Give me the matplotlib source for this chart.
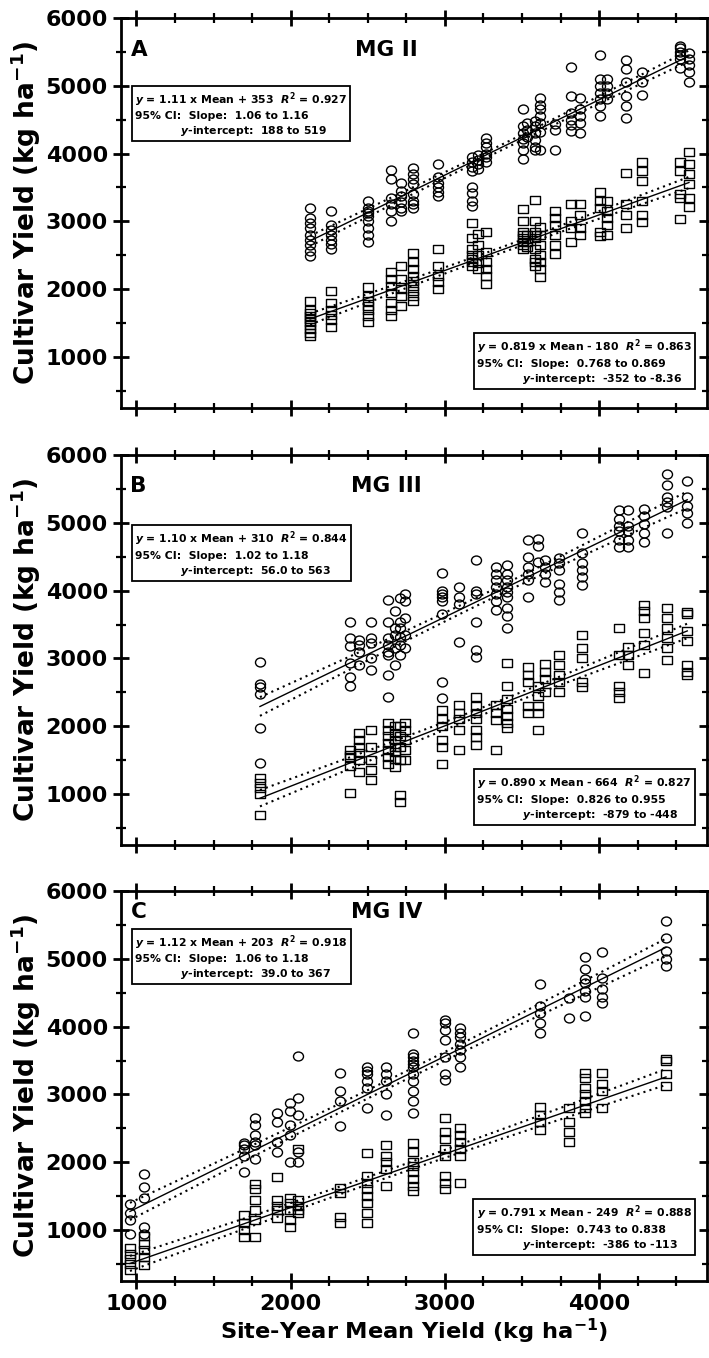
"""
Cultivar yield vs site-year mean yield for three maturity groups (MG II-IV),
circles and squares = two cultivar sets, with fitted line and 95% CI band.
"""
import matplotlib
matplotlib.use("Agg")
import matplotlib.pyplot as plt
import numpy as np
from matplotlib.path import Path
from matplotlib.ticker import MultipleLocator

plt.rcParams["font.family"] = ["DejaVu Sans"]
plt.rcParams["font.weight"] = "bold"
plt.rcParams["mathtext.fontset"] = "custom"
plt.rcParams["mathtext.rm"] = "DejaVu Sans:bold"
plt.rcParams["mathtext.it"] = "DejaVu Sans:italic:bold"
plt.rcParams["mathtext.bf"] = "DejaVu Sans:bold"

# ---- panel A: MG II ----
A_X = [2126, 2260, 2500, 2649, 2714, 2794, 2956, 3174, 3215, 3267, 3505, 3531,
       3585, 3617, 3715, 3818, 3877, 4006, 4052, 4175, 4277, 4525, 4583]
A_CIRC = [
    [3200, 3050, 2980, 2900, 2800, 2720, 2650, 2560, 2490],
    [3150, 2950, 2870, 2800, 2730, 2660, 2590],
    [3300, 3200, 3160, 3120, 3080, 3000, 2900, 2800, 2700],
    [3760, 3620, 3350, 3250, 3150, 3000],
    [3570, 3450, 3380, 3280, 3200, 3150],
    [3790, 3700, 3620, 3550, 3400, 3300, 3250, 3200],
    [3840, 3650, 3560, 3500, 3430, 3370],
    [3950, 3870, 3800, 3750, 3500, 3420, 3300, 3220],
    [3980, 3900, 3840, 3780],
    [4230, 4150, 4100, 4000, 3950, 3880],
    [4650, 4400, 4300, 4220, 4150, 4050, 3920],
    [4450, 4350, 4250],
    [4480, 4400, 4300, 4200, 4100, 4060],
    [4820, 4720, 4650, 4550, 4450, 4320, 4060],
    [4430, 4350, 4060],
    [5280, 4850, 4600, 4500, 4420, 4330],
    [4820, 4650, 4550, 4450, 4310],
    [5450, 5100, 5000, 4900, 4800, 4700, 4550],
    [5100, 5000, 4900, 4800],
    [5380, 5250, 5050, 4850, 4700, 4520],
    [5200, 5050, 4870],
    [5590, 5560, 5500, 5450, 5400, 5260],
    [5480, 5400, 5300, 5200, 5060],
]
A_SQ = [
    [1820, 1700, 1650, 1600, 1560, 1520, 1480, 1420, 1350, 1310],
    [1970, 1800, 1700, 1620, 1550, 1450],
    [2030, 1900, 1820, 1760, 1700, 1600, 1520],
    [2250, 2150, 2050, 1950, 1800, 1700, 1600],
    [2340, 2150, 2000, 1900, 1750],
    [2540, 2400, 2300, 2200, 2120, 2050, 1980, 1900, 1820],
    [2590, 2350, 2200, 2100, 2000],
    [2980, 2750, 2600, 2500, 2450, 2400, 2340],
    [2810, 2650, 2500, 2380, 2300],
    [2840, 2550, 2400, 2300, 2200, 2080],
    [3180, 3000, 2850, 2800, 2750, 2700, 2650, 2590],
    [2800, 2700, 2620],
    [3320, 3000, 2850, 2800, 2750, 2600, 2450, 2400, 2340],
    [2920, 2800, 2650, 2500, 2400, 2300, 2180],
    [3150, 3050, 2950, 2800, 2650, 2520],
    [3250, 3000, 2900, 2700],
    [3250, 3100, 2900, 2800],
    [3440, 3300, 3200, 2850, 2780],
    [3300, 3150, 3050, 2950, 2800],
    [3720, 3250, 3100, 2900],
    [3880, 3750, 3600, 3300, 3100, 2990],
    [3880, 3750, 3400, 3350, 3040],
    [4030, 3850, 3700, 3550, 3350, 3210],
]

# ---- panel B: MG III ----
B_X = [1801, 2385, 2443, 2521, 2632, 2677, 2709, 2740, 2980, 3092, 3202, 3330,
       3401, 3538, 3604, 3650, 3740, 3892, 4130, 4188, 4292, 4439, 4572]
B_CIRC = [
    [2940, 2630, 2580, 2480, 1970, 1460],
    [3540, 3300, 3190, 2930, 2730, 2600],
    [3270, 3200, 3100, 2900],
    [3540, 3300, 3220, 3000, 2830],
    [3860, 3540, 3300, 3200, 3100, 3050, 2750, 2430],
    [3700, 3450, 3350, 3150, 2900],
    [3890, 3540, 3450, 3320, 3200, 3050],
    [3950, 3850, 3600, 3350, 3150],
    [4260, 4000, 3950, 3900, 3850, 3650, 2650, 2420],
    [4050, 3900, 3800, 3240],
    [4450, 3990, 3950, 3540, 3120, 3020],
    [4350, 4250, 4150, 4050, 3950, 3850, 3720],
    [4370, 4250, 4150, 4050, 3980, 3900, 3750, 3620, 3450],
    [4740, 4500, 4350, 4250, 4150, 3900],
    [4760, 4650, 4420],
    [4450, 4350, 4250, 4120],
    [4480, 4400, 4300, 4100, 3980, 3860],
    [4850, 4550, 4400, 4300, 4200, 4080],
    [5190, 5050, 4950, 4880, 4750, 4640],
    [5190, 4950, 4880, 4750, 4640],
    [5200, 5100, 4980, 4850, 4720],
    [5720, 5550, 5380, 5300, 5230, 4850],
    [5620, 5380, 5250, 5150, 5000],
]
B_SQ = [
    [1240, 1160, 1090, 1000, 690],
    [1650, 1580, 1550, 1420, 1020],
    [1900, 1800, 1700, 1600, 1500, 1320],
    [1940, 1700, 1500, 1350, 1210],
    [2050, 1950, 1850, 1750, 1650, 1550, 1450],
    [2000, 1900, 1800, 1700, 1620, 1520, 1400],
    [2000, 1850, 1700, 1500, 980, 880],
    [2050, 1950, 1800, 1650, 1500],
    [2240, 2100, 2000, 1800, 1700, 1450],
    [2310, 2200, 2100, 1950, 1650],
    [2430, 2300, 2200, 2100, 1950, 1840, 1720],
    [2310, 2200, 2090, 1650],
    [2930, 2600, 2400, 2250, 2150, 2050, 1970],
    [2870, 2750, 2650, 2300, 2200],
    [2600, 2450, 2300, 2200, 1950],
    [2920, 2800, 2700, 2500],
    [3050, 2900, 2750, 2650, 2500],
    [3340, 3150, 3000, 2650, 2580],
    [3450, 3050, 2600, 2500, 2420],
    [3170, 3050, 2900],
    [3790, 3700, 3600, 3380, 3200, 2780],
    [3740, 3600, 3450, 3300, 3150, 2980],
    [3680, 3650, 3400, 3250, 2900, 2800, 2750],
]

# ---- panel C: MG IV ----
C_X = [958, 1049, 1698, 1769, 1912, 1996, 2048, 2320, 2495, 2618, 2794, 3001,
       3098, 3617, 3805, 3909, 4019, 4434]
C_CIRC = [
    [1390, 1250, 1150, 950],
    [1830, 1630, 1480, 1050, 950],
    [2280, 2250, 2200, 2100, 1850],
    [2660, 2550, 2400, 2300, 2250, 2050],
    [2720, 2600, 2300, 2150],
    [2870, 2750, 2550, 2400, 2000],
    [3560, 2950, 2700, 2150, 2000],
    [3320, 3050, 2900, 2530],
    [3400, 3350, 3300, 3200, 3100, 2800],
    [3410, 3300, 3200, 3000, 2700],
    [3900, 3600, 3550, 3500, 3450, 3400, 3300, 3200, 3050, 2900, 2730],
    [4100, 4050, 3950, 3800, 3550, 3300, 3220],
    [3980, 3900, 3850, 3750, 3650, 3550, 3400],
    [4630, 4300, 4200, 4050, 3900],
    [4420, 4130],
    [5030, 4850, 4700, 4650, 4520, 4430, 4150],
    [5100, 4720, 4550, 4430, 4350],
    [5560, 5300, 5120, 5000, 4890],
]
C_SQ = [
    [730, 650, 580, 500, 410],
    [920, 800, 700, 600, 480],
    [1220, 1100, 1000, 900],
    [1680, 1600, 1450, 1300, 1150, 900],
    [1780, 1450, 1350, 1300, 1180],
    [1480, 1400, 1300, 1150, 1050],
    [2200, 1450, 1350, 1300, 1250],
    [1620, 1550, 1200, 1100],
    [2130, 1800, 1700, 1600, 1500, 1400, 1250, 1100],
    [2250, 2100, 2000, 1900, 1650],
    [2280, 2150, 2000, 1950, 1850, 1750, 1650, 1570],
    [2650, 2450, 2350, 2200, 2100, 1800, 1700, 1600],
    [2500, 2400, 2300, 2200, 2100, 1700],
    [2810, 2700, 2600, 2480],
    [2800, 2600, 2450, 2300],
    [3310, 3250, 3100, 3000, 2900, 2800, 2720],
    [3310, 3150, 3050, 2800],
    [3530, 3500, 3300, 3130],
]

# reported fits: (slope, intercept)
FIT_CIRC = [(1.11, 353), (1.10, 310), (1.12, 203)]
FIT_SQ = [(0.819, -180), (0.890, -664), (0.791, -249)]

TOP_TEXT = [
    ["$y$ = 1.11 x Mean + 353  $R^2$ = 0.927",
     "95% CI:  Slope:  1.06 to 1.16",
     "$y$-intercept:  188 to 519"],
    ["$y$ = 1.10 x Mean + 310  $R^2$ = 0.844",
     "95% CI:  Slope:  1.02 to 1.18",
     "$y$-intercept:  56.0 to 563"],
    ["$y$ = 1.12 x Mean + 203  $R^2$ = 0.918",
     "95% CI:  Slope:  1.06 to 1.18",
     "$y$-intercept:  39.0 to 367"],
]
BOT_TEXT = [
    ["$y$ = 0.819 x Mean - 180  $R^2$ = 0.863",
     "95% CI:  Slope:  0.768 to 0.869",
     "$y$-intercept:  -352 to -8.36"],
    ["$y$ = 0.890 x Mean - 664  $R^2$ = 0.827",
     "95% CI:  Slope:  0.826 to 0.955",
     "$y$-intercept:  -879 to -448"],
    ["$y$ = 0.791 x Mean - 249  $R^2$ = 0.888",
     "95% CI:  Slope:  0.743 to 0.838",
     "$y$-intercept:  -386 to -113"],
]
LETTERS = ["A", "B", "C"]
TITLES = ["MG II", "MG III", "MG IV"]

# slightly wide markers (the source figure is stretched horizontally)
_c = Path.unit_circle()
CIRCLE = Path(_c.vertices * [1.12, 1.0], _c.codes)
SQUARE = Path([(-0.6, -0.5), (0.6, -0.5), (0.6, 0.5), (-0.6, 0.5), (-0.6, -0.5)],
              [Path.MOVETO, Path.LINETO, Path.LINETO, Path.LINETO, Path.CLOSEPOLY])


def _flatten(xs, groups):
    x = np.concatenate([[xv] * len(g) for xv, g in zip(xs, groups)]).astype(float)
    y = np.concatenate(groups).astype(float)
    return x, y


def _fit_with_band(ax, x, y, slope, icpt):
    xx = np.linspace(x.min(), x.max(), 100)
    yy = slope * xx + icpt
    resid = y - (slope * x + icpt)
    n = len(x)
    s = np.sqrt(np.sum(resid ** 2) / (n - 2))
    sxx = np.sum((x - x.mean()) ** 2)
    se = s * np.sqrt(1.0 / n + (xx - x.mean()) ** 2 / sxx)
    t = 1.98
    ax.plot(xx, yy, c="k", lw=1.0, zorder=3)
    ax.plot(xx, yy + t * se, c="k", lw=1.5, ls=(0, (1, 2.0)), zorder=3)
    ax.plot(xx, yy - t * se, c="k", lw=1.5, ls=(0, (1, 2.0)), zorder=3)


def _box(ax, lines, x, y, ha, va):
    txt = lines[0] + "\n" + lines[1] + "\n" + " " * 12 + lines[2]
    ax.text(x, y, txt, transform=ax.transAxes, ha=ha, va=va, fontsize=7.8,
            fontweight="bold", linespacing=1.32, multialignment="left", zorder=5,
            bbox=dict(boxstyle="square,pad=0.28", fc="white", ec="k", lw=1.3))


fig = plt.figure(figsize=(7.09, 13.58), dpi=100)
bottoms = [0.6996, 0.3778, 0.0567]
panels = [(A_X, A_CIRC, A_SQ), (B_X, B_CIRC, B_SQ), (C_X, C_CIRC, C_SQ)]
top_y = [0.815, 0.808, 0.892]
bot_y = [0.056, 0.059, 0.074]
label_y = [0.918, 0.920, 0.946]

for i, (xs, circ, sq) in enumerate(panels):
    ax = fig.add_axes([0.1707, bottoms[i], 0.8265, 0.2872])
    xc, yc = _flatten(xs, circ)
    xsq, ysq = _flatten(xs, sq)
    ax.plot(xc, yc, ls="none", marker=CIRCLE, ms=7.2, mfc="none", mec="k", mew=1.0, zorder=2)
    ax.plot(xsq, ysq, ls="none", marker=SQUARE, ms=7.0, mfc="none", mec="k", mew=1.0, zorder=2)
    _fit_with_band(ax, xc, yc, *FIT_CIRC[i])
    _fit_with_band(ax, xsq, ysq, *FIT_SQ[i])

    ax.set_xlim(900, 4700)
    ax.set_ylim(250, 6000)
    ax.xaxis.set_major_locator(MultipleLocator(1000))
    ax.xaxis.set_minor_locator(MultipleLocator(250))
    ax.yaxis.set_major_locator(MultipleLocator(1000))
    ax.yaxis.set_minor_locator(MultipleLocator(500))
    ax.tick_params(which="both", direction="inout", top=True, right=True,
                   labelsize=16, pad=4)
    ax.tick_params(which="major", length=11, width=2.0)
    ax.tick_params(which="minor", length=7, width=1.6)
    for sp in ax.spines.values():
        sp.set_linewidth(2.0)
    if i < 2:
        ax.tick_params(labelbottom=False)
    else:
        ax.set_xlabel("Site-Year Mean Yield (kg ha$^{\\mathrm{-1}}$)", fontsize=16.2,
                      fontweight="bold", labelpad=2)
    for lab in ax.get_xticklabels() + ax.get_yticklabels():
        lab.set_fontweight("bold")
    ax.set_ylabel("Cultivar Yield (kg ha$^{\\mathrm{-1}}$)", fontsize=19,
                  fontweight="bold", labelpad=2)

    ax.text(0.016, label_y[i], LETTERS[i], transform=ax.transAxes, fontsize=15.5,
            fontweight="bold", ha="left", va="center")
    ax.text(2620, label_y[i], TITLES[i], transform=ax.get_xaxis_transform(),
            fontsize=15.5, fontweight="bold", ha="center", va="center")
    _box(ax, TOP_TEXT[i], 0.024, top_y[i], "left", "top")
    _box(ax, BOT_TEXT[i], 0.974, bot_y[i], "right", "bottom")

fig.savefig("out.png", dpi=100)
